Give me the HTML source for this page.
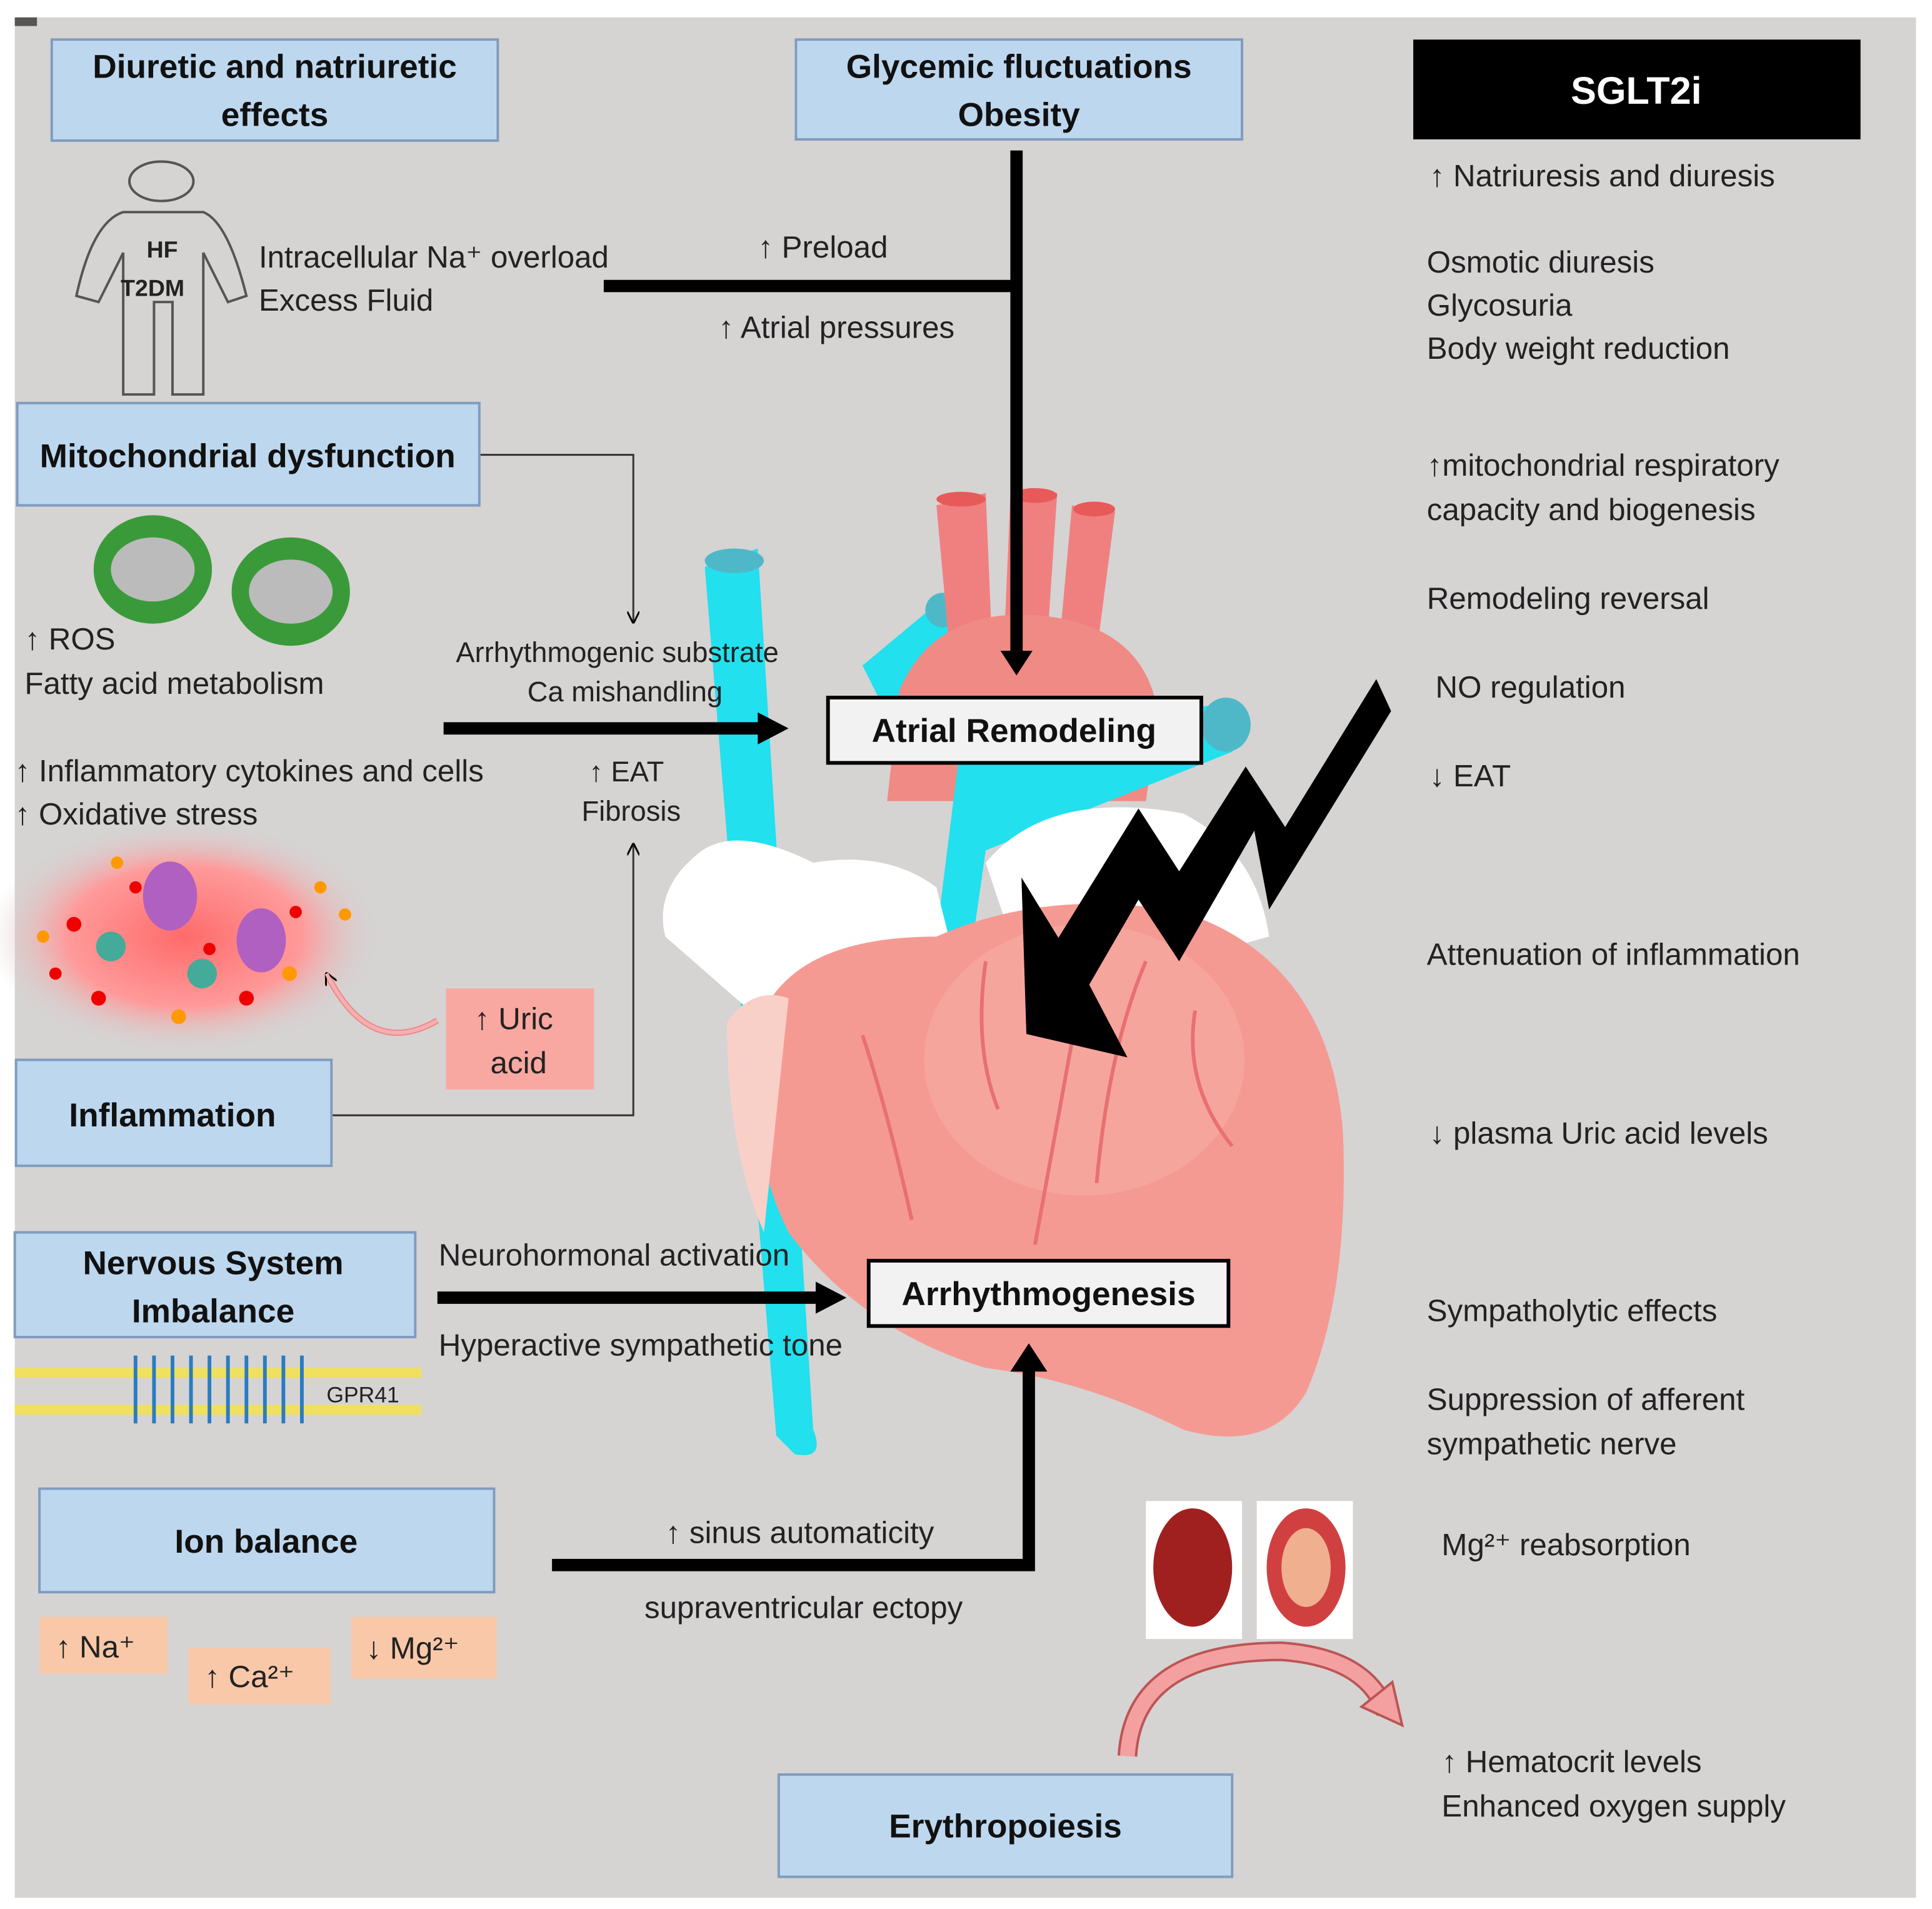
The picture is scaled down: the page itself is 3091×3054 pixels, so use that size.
<!DOCTYPE html>
<html><head><meta charset="utf-8"><style>
html,body{margin:0;padding:0;background:#fff}
svg{display:block}
text{font-family:"Liberation Sans","DejaVu Sans",sans-serif;fill:#222}
.b{font-weight:bold;font-size:27px;fill:#111}
.t{font-size:25px}
</style></head><body>
<svg width="3091" height="3054" viewBox="0 0 1568 1549" xmlns="http://www.w3.org/2000/svg">
<defs>
<radialGradient id="glow" cx="50%" cy="50%" r="50%">
<stop offset="0" stop-color="#ff6b6b"/><stop offset="0.6" stop-color="#ff9a9a"/><stop offset="1" stop-color="#d6d3d3" stop-opacity="0"/>
</radialGradient>
<marker id="ahs" markerWidth="10" markerHeight="10" refX="9" refY="5" orient="auto" markerUnits="userSpaceOnUse"><path d="M0,0 L10,5 L0,10" fill="none" stroke="#000" stroke-width="1.5"/></marker>
</defs>
<rect x="0" y="0" width="1568" height="1549" fill="#fff"/>
<rect x="12" y="14" width="1543" height="1526" fill="#d6d3d3"/>
<rect x="12" y="14" width="18" height="7" fill="#555"/>

<!-- heart -->
<g>
<path d="M572,460 L615,445 L660,1160 Q670,1185 645,1180 L630,1165 Z" fill="#22e0ee"/>
<ellipse cx="596" cy="455" rx="24" ry="10" fill="#4fb8c8"/>
<path d="M700,540 L760,490 L775,505 L720,580 Z" fill="#22e0ee"/>
<ellipse cx="765" cy="495" rx="14" ry="14" fill="#4fb8c8"/>
<path d="M760,410 L800,400 L805,520 L770,520 Z" fill="#f08080"/>
<path d="M820,402 L858,400 L850,520 L815,520 Z" fill="#f08080"/>
<path d="M870,410 L905,415 L890,530 L860,520 Z" fill="#f08080"/>
<ellipse cx="780" cy="405" rx="20" ry="6" fill="#e85a5a"/>
<ellipse cx="840" cy="402" rx="18" ry="6" fill="#e85a5a"/>
<ellipse cx="888" cy="413" rx="17" ry="6" fill="#e85a5a"/>
<path d="M730,560 Q760,490 850,500 Q930,510 940,580 L930,650 L720,650 Z" fill="#f08a84"/>
<path d="M780,600 L1000,570 Q1020,590 1000,610 L800,690 L790,760 L760,760 Z" fill="#22e0ee"/>
<ellipse cx="995" cy="588" rx="20" ry="22" fill="#4fb8c8"/>
<path d="M570,690 Q600,670 660,700 Q720,690 760,720 L780,800 L620,830 L540,760 Q530,720 570,690 Z" fill="#fff"/>
<path d="M800,700 Q850,640 960,660 Q1020,690 1030,760 L920,790 L820,760 Z" fill="#fff"/>
<path d="M620,820 Q650,760 760,760 Q850,720 960,740 Q1080,780 1090,920 Q1095,1050 1060,1130 Q1030,1180 960,1160 Q880,1120 800,1110 Q700,1080 640,1000 Q600,920 620,820 Z" fill="#f59a92"/>
<ellipse cx="880" cy="860" rx="130" ry="110" fill="#f7aaa2" opacity="0.7"/>
<path d="M590,830 Q610,800 640,810 L620,1000 Q590,930 590,830 Z" fill="#f9d0c8"/>
<g fill="none" stroke="#e87070" stroke-width="3">
<path d="M880,790 Q860,900 840,1010"/><path d="M930,780 Q900,850 890,960"/><path d="M700,840 Q720,900 740,990"/><path d="M800,780 Q790,850 810,900"/><path d="M970,820 Q960,880 1000,930"/>
</g>
</g>

<!-- glow / inflammation -->
<ellipse cx="150" cy="760" rx="160" ry="95" fill="url(#glow)"/>
<g fill="#e00">
<circle cx="60" cy="750" r="6"/><circle cx="110" cy="720" r="5"/><circle cx="80" cy="810" r="6"/><circle cx="200" cy="810" r="6"/><circle cx="240" cy="740" r="5"/><circle cx="45" cy="790" r="5"/><circle cx="170" cy="770" r="5"/>
</g>
<g fill="#f90"><circle cx="35" cy="760" r="5"/><circle cx="145" cy="825" r="6"/><circle cx="260" cy="720" r="5"/><circle cx="235" cy="790" r="6"/><circle cx="280" cy="742" r="5"/><circle cx="95" cy="700" r="5"/></g>
<ellipse cx="138" cy="727" rx="22" ry="28" fill="#b060c0"/><ellipse cx="212" cy="763" rx="20" ry="26" fill="#b060c0"/>
<circle cx="90" cy="768" r="12" fill="#4a9"/><circle cx="164" cy="790" r="12" fill="#4a9"/>
<path d="M355,828 Q300,860 265,790" fill="none" stroke="#e88" stroke-width="5" marker-end="url(#ahs)"/>
<path d="M355,828 Q300,860 265,790" fill="none" stroke="#f4b0b0" stroke-width="3"/>

<!-- mitochondria -->
<ellipse cx="124" cy="462" rx="48" ry="44" fill="#3a9a3a"/><ellipse cx="124" cy="462" rx="34" ry="26" fill="#bbb"/>
<ellipse cx="236" cy="480" rx="48" ry="44" fill="#3a9a3a"/><ellipse cx="236" cy="480" rx="34" ry="26" fill="#bbb"/>

<!-- human -->
<g fill="none" stroke="#555" stroke-width="2">
<ellipse cx="131" cy="147" rx="26" ry="16"/>
<path d="M100,172 L165,172 Q185,180 200,240 L185,245 L165,205 L165,320 L140,320 L140,245 L125,245 L125,320 L100,320 L100,205 L80,245 L62,240 Q75,180 100,172 Z"/>
</g>
<text x="119" y="209" font-size="19" font-weight="bold">HF</text>
<text x="98" y="240" font-size="19" font-weight="bold">T2DM</text>

<!-- membrane -->
<rect x="12" y="1110" width="330" height="8" fill="#f0e060"/><rect x="12" y="1140" width="330" height="8" fill="#f0e060"/>
<g fill="none" stroke="#2a7cc0" stroke-width="3"><path d="M110,1100 L110,1155 M125,1100 L125,1155 M140,1100 L140,1155 M155,1100 L155,1155 M170,1100 L170,1155 M185,1100 L185,1155 M200,1100 L200,1155 M215,1100 L215,1155 M230,1100 L230,1155 M245,1100 L245,1155"/></g>
<text x="265" y="1138" font-size="18">GPR41</text>

<!-- kidneys -->
<rect x="930" y="1218" width="78" height="112" fill="#fff"/><rect x="1020" y="1218" width="78" height="112" fill="#fff"/>
<ellipse cx="968" cy="1272" rx="32" ry="48" fill="#a02020"/><ellipse cx="1060" cy="1272" rx="32" ry="48" fill="#d04040"/><ellipse cx="1060" cy="1272" rx="20" ry="32" fill="#f0b090"/>
<path d="M915,1425 Q920,1340 1040,1340 Q1110,1345 1125,1390" fill="none" stroke="#b55" stroke-width="16"/>
<path d="M915,1425 Q920,1340 1040,1340 Q1110,1345 1125,1390" fill="none" stroke="#f4a0a0" stroke-width="12"/>
<path d="M1105,1385 L1138,1400 L1130,1365 Z" fill="#f4a0a0" stroke="#b55" stroke-width="2"/>

<!-- lightning -->
<path d="M1117,551 L1129,577 L1030,738 L1018,674 L957,780 L924,730 L884,799 L915,858 L833,839 L829,712 L859,761 L924,656 L957,707 L1011,622 L1043,671 Z" fill="#000"/>

<!-- connectors -->
<g stroke="#000" stroke-width="10" fill="none">
<line x1="825" y1="122" x2="825" y2="528"/>
<line x1="490" y1="232" x2="825" y2="232"/>
<line x1="360" y1="591" x2="618" y2="591"/>
<line x1="355" y1="1053" x2="665" y2="1053"/>
<polyline points="448,1270 835,1270 835,1112"/>
</g>
<path d="M812,528 L838,528 L825,548 Z" fill="#000"/>
<path d="M615,578 L640,591 L615,604 Z" fill="#000"/>
<path d="M662,1040 L687,1053 L662,1066 Z" fill="#000"/>
<path d="M820,1113 L850,1113 L835,1090 Z" fill="#000"/>
<g stroke="#333" stroke-width="1.5" fill="none">
<polyline points="389,369 514,369 514,505" marker-end="url(#ahs)"/>
<polyline points="269,905 514,905 514,685" marker-end="url(#ahs)"/>
</g>

<!-- boxes -->
<g fill="#bdd7ee" stroke="#7f9cbf" stroke-width="2">
<rect x="42" y="32" width="362" height="82"/>
<rect x="646" y="32" width="362" height="81"/>
<rect x="14" y="327" width="375" height="83"/>
<rect x="13" y="860" width="256" height="86"/>
<rect x="12" y="1000" width="325" height="85"/>
<rect x="32" y="1208" width="369" height="84"/>
<rect x="632" y="1440" width="368" height="83"/>
</g>
<rect x="1147" y="32" width="363" height="81" fill="#000"/>
<rect x="672" y="566" width="303" height="53" fill="#f2f2f2" stroke="#000" stroke-width="3"/>
<rect x="705" y="1023" width="292" height="53" fill="#f2f2f2" stroke="#000" stroke-width="3"/>
<rect x="362" y="802" width="120" height="82" fill="#f8a8a0"/>
<rect x="32" y="1312" width="104" height="46" fill="#f8c8a8"/>
<rect x="153" y="1337" width="115" height="46" fill="#f8c8a8"/>
<rect x="285" y="1312" width="118" height="50" fill="#f8c8a8"/>

<g class="b" text-anchor="middle">
<text x="223" y="63" class="b">Diuretic and natriuretic</text><text x="223" y="102" class="b">effects</text>
<text x="827" y="63" class="b">Glycemic fluctuations</text><text x="827" y="102" class="b">Obesity</text>
<text x="1328" y="84" class="b" style="fill:#fff;font-size:31px">SGLT2i</text>
<text x="201" y="379" class="b">Mitochondrial dysfunction</text>
<text x="140" y="914" class="b">Inflammation</text>
<text x="173" y="1034" class="b">Nervous System</text><text x="173" y="1073" class="b">Imbalance</text>
<text x="216" y="1260" class="b">Ion balance</text>
<text x="816" y="1491" class="b">Erythropoiesis</text>
<text x="823" y="602" class="b">Atrial Remodeling</text>
<text x="851" y="1059" class="b">Arrhythmogenesis</text>
</g>

<g class="t">
<text x="210" y="217">Intracellular Na⁺ overload</text>
<text x="210" y="252">Excess Fluid</text>
<text x="615" y="209">↑ Preload</text>
<text x="583" y="274">↑ Atrial pressures</text>
<text x="20" y="527">↑ ROS</text>
<text x="20" y="563">Fatty acid metabolism</text>
<text x="370" y="537" font-size="23">Arrhythmogenic substrate</text>
<text x="428" y="569" font-size="23">Ca mishandling</text>
<text x="12" y="634">↑ Inflammatory cytokines and cells</text>
<text x="12" y="669">↑ Oxidative stress</text>
<text x="478" y="634" font-size="23">↑ EAT</text>
<text x="472" y="666" font-size="23">Fibrosis</text>
<text x="385" y="835">↑ Uric</text>
<text x="398" y="871">acid</text>
<text x="356" y="1027">Neurohormonal activation</text>
<text x="356" y="1100">Hyperactive sympathetic tone</text>
<text x="540" y="1252">↑ sinus automaticity</text>
<text x="523" y="1313">supraventricular ectopy</text>
<text x="45" y="1345">↑ Na⁺</text>
<text x="166" y="1369">↑ Ca²⁺</text>
<text x="297" y="1346">↓ Mg²⁺</text>
<text x="1160" y="151">↑ Natriuresis and diuresis</text>
<text x="1158" y="221">Osmotic diuresis</text>
<text x="1158" y="256">Glycosuria</text>
<text x="1158" y="291">Body weight reduction</text>
<text x="1158" y="386">↑mitochondrial respiratory</text>
<text x="1158" y="422">capacity and biogenesis</text>
<text x="1158" y="494">Remodeling reversal</text>
<text x="1165" y="566">NO regulation</text>
<text x="1160" y="638">↓ EAT</text>
<text x="1158" y="783">Attenuation of inflammation</text>
<text x="1160" y="928">↓ plasma Uric acid levels</text>
<text x="1158" y="1072">Sympatholytic effects</text>
<text x="1158" y="1144">Suppression of afferent</text>
<text x="1158" y="1180">sympathetic nerve</text>
<text x="1170" y="1262">Mg²⁺ reabsorption</text>
<text x="1170" y="1438">↑ Hematocrit levels</text>
<text x="1170" y="1474">Enhanced oxygen supply</text>
</g>
</svg>
</body></html>
